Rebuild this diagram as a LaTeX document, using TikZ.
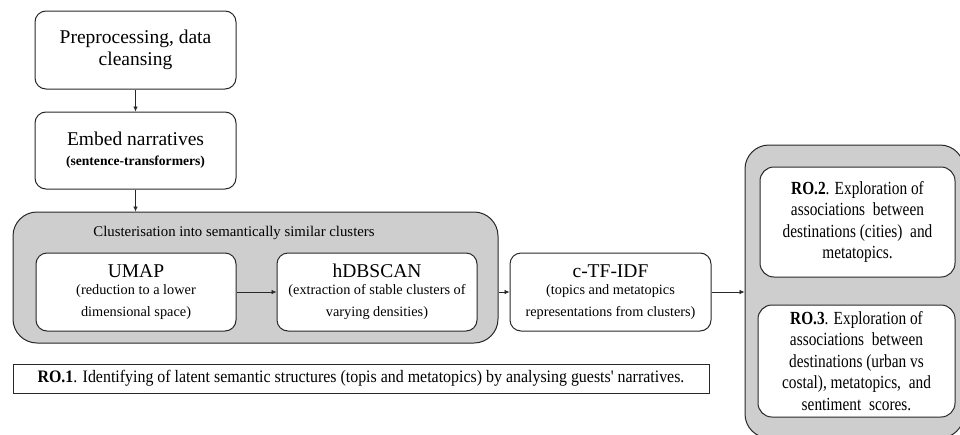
\documentclass[tikz,border=0pt]{standalone}
\usepackage{fontspec}
\setmainfont{Liberation Serif}
\newfontfamily\condfont[FakeStretch=0.83]{Liberation Serif}
\newfontfamily\condfontb[FakeStretch=0.91]{Liberation Serif}
\usetikzlibrary{arrows.meta}
\definecolor{grpfill}{RGB}{206,206,206}
\definecolor{edge}{RGB}{40,40,40}
\tikzset{
  stepbox/.style={draw=edge, line width=1pt, fill=white, rounded corners=11pt, align=center, inner sep=0pt},
  grpbox/.style={draw=edge, line width=1pt, fill=grpfill, rounded corners=24pt, inner sep=0pt},
  robox/.style={draw=edge, line width=0.9pt, fill=white, align=center, inner sep=0pt},
  conn/.style={draw=edge, line width=0.7pt, -{Latex[length=5pt,width=4.5pt]}},
  bigf/.style={font=\fontsize{19.5}{22}\selectfont},
  rof/.style={font=\condfont\fontsize{18.5}{21.5}\selectfont},
}
\newcommand{\subf}{\fontsize{14.3}{16}\selectfont}
\newcommand{\rol}{\condfont\fontsize{18.5}{21.5}\selectfont}
\begin{document}
\begin{tikzpicture}[x=1pt,y=-1pt]
\useasboundingbox (0,0) rectangle (960,434);
% top boxes
\node[stepbox, bigf, minimum width=201pt, minimum height=78pt] (pre) at (135.5,50)
  {Preprocessing, data\\cleansing};
\node[stepbox, bigf, minimum width=201pt, minimum height=77pt] (emb) at (135.5,150.5)
  {Embed narratives\\[-2pt]\fontsize{13.6}{16}\selectfont\bfseries (sentence-transformers)};
% cluster group
\node[grpbox, minimum width=485pt, minimum height=131pt] (grp) at (255.5,277.5) {};
\node[inner sep=0pt, font=\fontsize{14.8}{17}\selectfont] (cap) at (234,233) {Clusterisation\ into semantically\ similar\ clusters};
\node[stepbox, bigf, minimum width=200pt, minimum height=78pt] (umap) at (136,292)
  {UMAP\\[-5pt]\subf (reduction to a lower\\\subf dimensional space)};
\node[stepbox, bigf, minimum width=200pt, minimum height=78pt] (hdb) at (377,292)
  {hDBSCAN\\[-5pt]\subf (extraction of stable clusters of\\\subf varying\ densities)};
\node[stepbox, bigf, minimum width=201pt, minimum height=78pt] (ctf) at (610.5,292)
  {c-TF-IDF\\[-5pt]\subf (topics and metatopics\\\subf representations from clusters)};
% RO.1
\node[robox, minimum width=696pt, minimum height=29pt, font=\condfontb\fontsize{17.5}{20}\selectfont] (ro1) at (361,378.5)
  {\textbf{RO.1}. Identifying of latent semantic structures (topis and metatopics) by analysing guests' narratives.};
% right group
\node[grpbox, minimum width=219pt, minimum height=293pt] (rgrp) at (854.5,291.5) {};
\node[stepbox, minimum width=195pt, minimum height=110pt, rounded corners=14pt, rof] (ro2) at (857.5,222)
  {\textbf{RO.2}. Exploration of\\\rol associations\ \ between\\\rol destinations (cities)\ \ and\\\rol metatopics.};
\node[stepbox, minimum width=197pt, minimum height=112pt, rounded corners=14pt, rof] (ro3) at (856.5,361)
  {\textbf{RO.3}. Exploration of\\\rol associations\ \ between\\\rol destinations (urban vs\\\rol costal), metatopics,\ \ and\\\rol sentiment\ \ scores.};
% connectors
\draw[conn] (pre.south) -- (emb.north);
\draw[conn] (emb.south) -- (emb.south |- grp.north);
\draw[conn] (umap.east) -- (hdb.west);
\draw[conn] (grp.east |- ctf.west) -- (ctf.west);
\draw[conn] (ctf.east) -- (ctf.east -| rgrp.west);
\end{tikzpicture}
\end{document}
